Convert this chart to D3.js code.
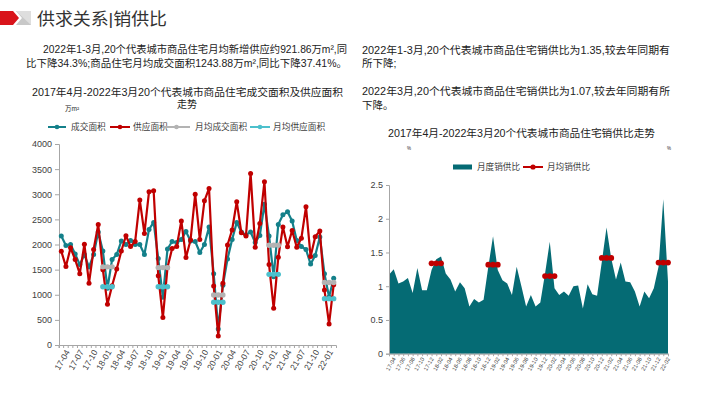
<!DOCTYPE html>
<html>
<head>
<meta charset="utf-8">
<script src="https://cdn.jsdelivr.net/npm/d3@7"></script>
<style>
  html, body { margin: 0; padding: 0; background: #fff; }
  svg text { font-family: "Liberation Sans", "Noto Sans CJK SC", sans-serif; }
</style>
</head>
<body>
<svg id="page" width="710" height="399"></svg>
<script>
// categories
const months = [
  '17-04','17-05','17-06','17-07','17-08','17-09','17-10','17-11','17-12',
  '18-01','18-02','18-03','18-04','18-05','18-06','18-07','18-08','18-09','18-10','18-11','18-12',
  '19-01','19-02','19-03','19-04','19-05','19-06','19-07','19-08','19-09','19-10','19-11','19-12',
  '20-01','20-02','20-03','20-04','20-05','20-06','20-07','20-08','20-09','20-10','20-11','20-12',
  '21-01','21-02','21-03','21-04','21-05','21-06','21-07','21-08','21-09','21-10','21-11','21-12',
  '22-01','22-02','22-03'
];

// 成交面积 (万m²)
const dealArea = [
  2170, 1980, 2000, 1810, 1600, 1800, 1550, 1800, 2250,
  1870, 1130, 1700, 1800, 2070, 2000, 2080, 2000, 2000, 1800, 2300, 2440,
  1720, 950, 1910, 2060, 2040, 2100, 2260, 2070, 2060, 1840, 2000, 2350,
  1420, 320, 1190, 1710, 2100, 2440, 2250, 2190, 2250, 2040, 2180, 2800,
  2170, 1360, 2400, 2590, 2650, 2470, 2080, 1960, 1900, 1610, 1780, 2150,
  1420, 955, 1330
];
// 供应面积 (万m²)
const supplyArea = [
  1865, 1560, 1935, 1700, 1420, 2005, 1230, 1900, 2400,
  1500, 810, 1180, 1510, 1870, 2175, 1960, 2060, 2885, 2220, 3050, 3070,
  1380, 545, 1540, 1920, 1960, 2470, 1740, 2090, 3000, 2100, 2870, 3115,
  1175, 180, 1230, 1990, 2290, 2850, 2235, 2170, 3415, 1945, 2420, 3250,
  1600, 730, 1745, 2350, 1957, 2280, 1945, 2125, 2750, 1760, 2155, 2270,
  1095, 420, 1200
];
// 月均成交面积 / 月均供应面积 (一季度)
const avgDeal = {
  '18-01': 1555, '18-02': 1555, '18-03': 1555,
  '19-01': 1540, '19-02': 1540, '19-03': 1540,
  '20-01': 995, '20-02': 995, '20-03': 995,
  '21-01': 1985, '21-02': 1985, '21-03': 1985,
  '22-01': 1244, '22-02': 1244, '22-03': 1244
};
const avgSupply = {
  '18-01': 1160, '18-02': 1160, '18-03': 1160,
  '19-01': 1160, '19-02': 1160, '19-03': 1160,
  '20-01': 850, '20-02': 850, '20-03': 850,
  '21-01': 1406, '21-02': 1406, '21-03': 1406,
  '22-01': 922, '22-02': 922, '22-03': 922
};

// 月度销供比
const ratio = [
  1.17, 1.25, 1.04, 1.07, 1.12, 0.90, 1.27, 0.94, 0.94,
  1.24, 1.40, 1.44, 1.19, 1.10, 0.92, 1.06, 0.97, 0.70, 0.81, 0.76, 0.80,
  1.29, 1.74, 1.24, 1.09, 1.04, 0.87, 1.29, 1.00, 0.70, 0.87, 0.70, 0.76,
  1.19, 1.66, 0.97, 0.87, 0.92, 0.86, 1.00, 1.01, 0.67, 1.03, 0.88, 0.86,
  1.36, 1.87, 1.41, 1.10, 1.35, 1.07, 1.06, 0.92, 0.70, 0.92, 0.82, 0.97,
  1.29, 2.29, 1.07
];
// 月均销供比 (一季度)
const avgRatio = {
  '18-01': 1.34, '18-02': 1.34, '18-03': 1.34,
  '19-01': 1.32, '19-02': 1.32, '19-03': 1.32,
  '20-01': 1.15, '20-02': 1.15, '20-03': 1.15,
  '21-01': 1.42, '21-02': 1.42, '21-03': 1.42,
  '22-01': 1.35, '22-02': 1.35, '22-03': 1.35
};

const yTicksLeft = [0, 500, 1000, 1500, 2000, 2500, 3000, 3500, 4000];
const yTicksRight = [0, 0.5, 1, 1.5, 2, 2.5];

const leftSeries = ['成交面积', '供应面积', '月均成交面积', '月均供应面积'];
const rightSeries = ['月度销供比', '月均销供比'];

const colTeal = '#14808a', colRed = '#c00000', colGray = '#b3b3b3', colCyan = '#4cc0cc';
const colArea = '#056b74', colAxis = '#a6a6a6', colText = '#222';

const svg = d3.select('#page');

// ---- header ----
svg.append('polygon').attr('points', '0,11 13,11 19,18 13,25 0,25').attr('fill', '#d9141b');
svg.append('polygon').attr('points', '16,11 31,11 31,25 16,25 22,18').attr('fill', '#c8c8c8');
svg.append('polygon').attr('points', '16,11 31,11 31,25').attr('fill', '#dedede');
svg.append('text').attr('x', 37).attr('y', 25).attr('font-size', 17).attr('fill', '#333')
  .attr('textLength', 130).attr('lengthAdjust', 'spacingAndGlyphs')
  .text('供求关系|销供比');

// ---- paragraphs ----
function line(x, y, w, s, size, anchor) {
  const t = svg.append('text').attr('x', x).attr('y', y).attr('font-size', size || 10.5)
    .attr('fill', colText).attr('text-anchor', anchor || 'start').text(s);
  if (w) t.attr('textLength', w).attr('lengthAdjust', 'spacingAndGlyphs');
  return t;
}
line(43, 53, 304, '2022年1-3月,20个代表城市商品住宅月均新增供应约921.86万m²,同');
line(26, 67, 321, '比下降34.3%;商品住宅月均成交面积1243.88万m²,同比下降37.41%。');
line(362, 54, 308, '2022年1-3月,20个代表城市商品住宅销供比为1.35,较去年同期有');
line(362, 67, 0, '所下降;');
line(362, 95, 308, '2022年3月,20个代表城市商品住宅销供比为1.07,较去年同期有所');
line(362, 109, 0, '下降。');

// chart titles
line(32, 96, 311, '2017年4月-2022年3月20个代表城市商品住宅成交面积及供应面积', 10);
line(187, 108, 0, '走势', 10, 'middle');
line(65, 111, 0, '万m²', 6.5);
line(388, 137, 267, '2017年4月-2022年3月20个代表城市商品住宅销供比走势', 10);
line(407, 150, 0, '%', 4.5);
line(667, 150, 0, '%', 4.5);

// ---- left chart ----
const xL = d3.scaleBand().domain(months).range([59, 336]);
const yL = d3.scaleLinear().domain([0, 4000]).range([345, 144]);
const cx = m => xL(m) + xL.bandwidth() / 2;

const gL = svg.append('g');
const yAxL = gL.append('g').attr('transform', 'translate(59,0)')
  .call(d3.axisLeft(yL).tickValues(yTicksLeft).tickSize(4).tickPadding(3).tickFormat(d3.format('d')));
const xAxL = gL.append('g').attr('transform', 'translate(0,345)')
  .call(d3.axisBottom(xL).tickSize(3).tickFormat((d, i) => i % 3 === 0 ? d : ''));
xAxL.selectAll('.tick line').attr('transform', `translate(${-xL.bandwidth() / 2},0)`);
xAxL.selectAll('.tick text').attr('font-size', 8.5).attr('text-anchor', 'end')
  .attr('transform', 'translate(2,1) rotate(-60)').attr('dy', '0.35em').attr('dx', '-0.2em');
gL.selectAll('.domain, .tick line').attr('stroke', colAxis);
yAxL.selectAll('text').attr('font-size', 9).attr('fill', '#404040');
xAxL.selectAll('text').attr('fill', '#404040');

function drawSeries(g, x, y, data, color, lw, r) {
  const ln = d3.line().defined(d => d.v != null).x(d => x(d.m)).y(d => y(d.v));
  g.append('path').datum(data).attr('d', ln).attr('fill', 'none')
    .attr('stroke', color).attr('stroke-width', lw).attr('stroke-linejoin', 'round');
  g.selectAll(null).data(data.filter(d => d.v != null)).enter().append('circle')
    .attr('cx', d => x(d.m)).attr('cy', d => y(d.v)).attr('r', r).attr('fill', color);
}
const toPts = arr => months.map((m, i) => ({ m, v: arr[i] }));
const fromMap = mp => months.map(m => ({ m, v: mp[m] != null ? mp[m] : null }));

drawSeries(gL, cx, yL, toPts(dealArea), colTeal, 2.2, 2.5);
drawSeries(gL, cx, yL, toPts(supplyArea), colRed, 2.2, 2.5);
drawSeries(gL, cx, yL, fromMap(avgDeal), colGray, 3.5, 2.7);
drawSeries(gL, cx, yL, fromMap(avgSupply), colCyan, 3.5, 2.7);

// left legend
const legL = [
  { name: leftSeries[0], c: colTeal, x1: 48, x2: 66, tx: 71 },
  { name: leftSeries[1], c: colRed, x1: 110, x2: 130, tx: 133 },
  { name: leftSeries[2], c: colGray, x1: 163, x2: 190, tx: 195 },
  { name: leftSeries[3], c: colCyan, x1: 250, x2: 270, tx: 273 }
];
legL.forEach(d => {
  svg.append('line').attr('x1', d.x1).attr('x2', d.x2).attr('y1', 127).attr('y2', 127)
    .attr('stroke', d.c).attr('stroke-width', 2);
  svg.append('circle').attr('cx', (d.x1 + d.x2) / 2).attr('cy', 127).attr('r', 2.3).attr('fill', d.c);
  svg.append('text').attr('x', d.tx).attr('y', 130).attr('font-size', 8.7).attr('fill', '#404040').text(d.name);
});

// ---- right chart ----
const xR = d3.scalePoint().domain(months).range([389, 668]);
const yR = d3.scaleLinear().domain([0, 2.5]).range([353.7, 185]);
const gR = svg.append('g');

gR.append('path').datum(toPts(ratio))
  .attr('d', d3.area().x(d => xR(d.m)).y0(yR(0)).y1(d => yR(d.v)))
  .attr('fill', colArea);

const yAxR = gR.append('g').attr('transform', 'translate(389,0)')
  .call(d3.axisLeft(yR).tickValues(yTicksRight).tickSize(3).tickPadding(3).tickFormat(d => String(d)));
const xAxR = gR.append('g').attr('transform', 'translate(0,353.7)')
  .call(d3.axisBottom(xR).tickSize(2.5).tickFormat((d, i) => i % 2 === 0 ? d : ''));
xAxR.selectAll('.tick text').attr('font-size', 5.6).attr('text-anchor', 'end')
  .attr('transform', 'translate(1,0) rotate(-60)').attr('dy', '0.35em').attr('dx', '-0.3em');
gR.selectAll('.domain, .tick line').attr('stroke', colAxis);
yAxR.selectAll('text').attr('font-size', 9).attr('fill', '#404040');
xAxR.selectAll('text').attr('fill', '#404040');

drawSeries(gR, xR, yR, fromMap(avgRatio), colRed, 3.2, 2.9);

// right legend
svg.append('rect').attr('x', 453).attr('y', 164.5).attr('width', 19).attr('height', 5).attr('fill', colArea);
svg.append('text').attr('x', 477).attr('y', 170).attr('font-size', 8.6).attr('fill', '#404040').text(rightSeries[0]);
svg.append('line').attr('x1', 523).attr('x2', 543).attr('y1', 167).attr('y2', 167)
  .attr('stroke', colRed).attr('stroke-width', 2);
svg.append('circle').attr('cx', 533).attr('cy', 167).attr('r', 2.6).attr('fill', colRed);
svg.append('text').attr('x', 547).attr('y', 170).attr('font-size', 8.6).attr('fill', '#404040').text(rightSeries[1]);
</script>
</body>
</html>
